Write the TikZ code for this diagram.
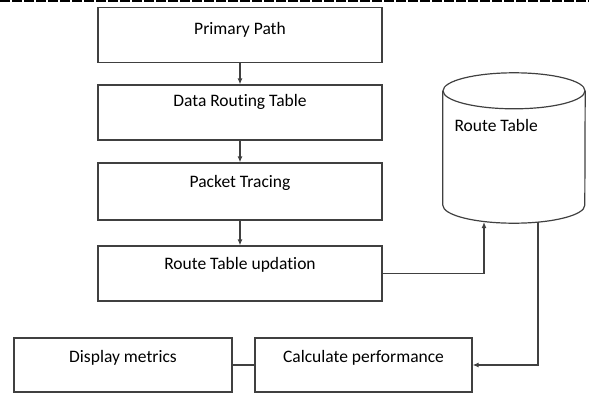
\documentclass[tikz,border=0pt]{standalone}
\usepackage{fontspec}
\setmainfont[Ligatures=NoCommon]{Carlito}
\usetikzlibrary{arrows.meta}

\tikzset{
  procbox/.style={draw=black!75, line width=1.2pt, minimum width=284pt, minimum height=55pt, inner sep=0pt},
  boxtext/.style={anchor=north, yshift=-9pt, font=\fontsize{17.5}{20}\selectfont},
  link/.style={draw=black!75, line width=1.2pt},
  tip/.style={-{Latex[length=6pt, width=5pt]}},
}

\begin{document}
\begin{tikzpicture}[x=1pt, y=-1pt]
\useasboundingbox (0,0) rectangle (589,394);
\def\xa{240};
\def\xb{123};
\def\xc{363.5};
\def\xd{514};

\def \ya{35};
\def \yb{112.5};
\def \yc{191.5};
\def \yd{273.5};
\def \ye{365};

% header rule
\draw[line width=2pt, dash pattern=on 10pt off 2pt] (0,1) -- (589,1);

\node[procbox, label={[boxtext, yshift=-3pt]north:Primary Path}] (path) at (\xa, \ya) {};
\node[procbox, label={[boxtext, yshift=3pt]north:Data Routing Table}] (rtab) at (\xa, \yb) {};
\node[procbox, minimum height=57pt, label={[boxtext]north:Packet Tracing}] (trace) at (\xa, \yc) {};
\node[procbox, label={[boxtext, yshift=1pt]north:Route Table updation}] (upd) at (\xa, \yd) {};
\node[procbox, minimum width=218pt, minimum height=54pt, label={[boxtext]north:Display metrics}] (disp) at (\xb, \ye) {};
\node[procbox, minimum width=217pt, minimum height=54pt, label={[boxtext]north:Calculate performance}] (calc) at (\xc, \ye) {};

% route table store
\node[minimum width=142pt, minimum height=114pt, inner sep=0pt] (rt) at (\xd, 148) {};
\draw[link] (rt.north west) -- (rt.south west) arc (180:360:71pt and 18pt) -- (rt.north east);
\draw[link] (rt.north) ellipse (71pt and 18pt);
\node[font=\fontsize{17.5}{20}\selectfont, anchor=west] (rtl) at (451, 125) {Route Table};
\coordinate (rtin) at (484, 222);
\coordinate (rtout) at (538, 222);

\draw[link, tip] (path) -- (rtab);
\draw[link, tip] (rtab) -- (trace);
\draw[link, tip] (trace) -- (upd);
\draw[link, tip] (upd.east) -| (rtin);
\draw[link, tip] (rtout) |- (calc.east);
\draw[link] (disp) -- (calc);
\end{tikzpicture}
\end{document}
